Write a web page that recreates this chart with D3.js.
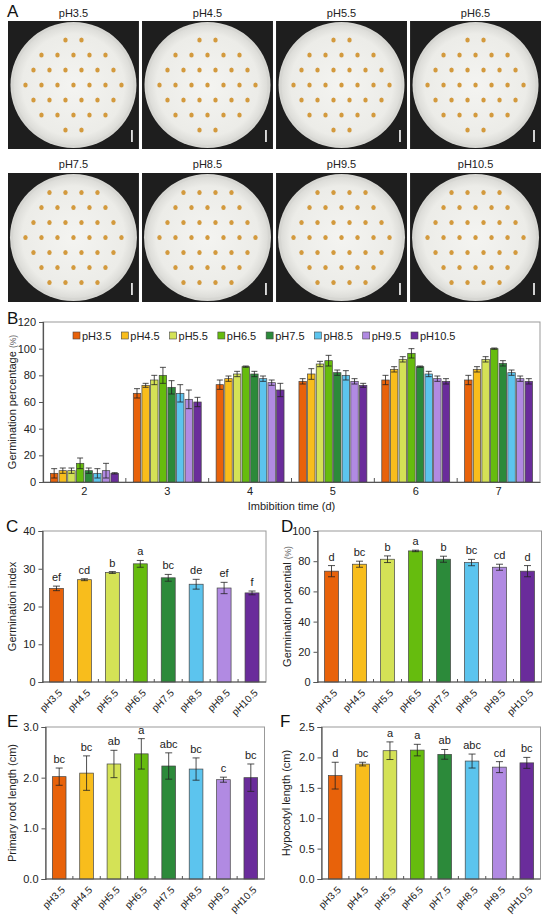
<!DOCTYPE html>
<html><head><meta charset="utf-8">
<script src="https://cdn.jsdelivr.net/npm/d3@7"></script>
<style>body{margin:0;background:#fff}svg{display:block;font-family:"Liberation Sans",Arial,sans-serif}</style>
</head><body><svg id="c" width="550" height="915"></svg>
<script>
// ---------- data ----------
const phLabels = ["pH3.5","pH4.5","pH5.5","pH6.5","pH7.5","pH8.5","pH9.5","pH10.5"];
const phColors = ["#E8620A","#F8BD1C","#D4E256","#66BC0E","#2C8A3A","#5CC4EE","#B18AE2","#6A2C9B"];
const days = ["2","3","4","5","6","7"];
const bTicks = [0,20,40,60,80,100,120];
// germination percentage per day (rows) and pH (cols)
const gpMean = [
  [6.5, 8.5, 8.5, 14, 8.5, 6.5, 8.5, 6.5],
  [66.5, 72.5, 76.5, 80, 71, 66.5, 62, 60],
  [73, 77.5, 81, 86.5, 81, 77.5, 74.5, 69],
  [75.5, 81, 88.5, 91, 82, 80, 75.5, 72.5],
  [76.5, 84.5, 92, 96.5, 86.5, 81, 77.5, 75.5],
  [76.5, 84.5, 92, 100, 89, 82, 77.5, 75.5]
];
const gpErr = [
  [3.5, 2, 2, 4, 2, 3.5, 5.5, 0.5],
  [3.5, 1.5, 3.5, 6, 5, 6.5, 7, 3.5],
  [3.5, 2, 2, 0.5, 2, 2, 2, 5],
  [2, 4, 2, 4, 2, 3.5, 2, 1.5],
  [3.5, 2, 2, 3.5, 0.5, 2, 2, 2],
  [3.5, 2, 2, 0.5, 2, 2, 2, 2]
];
// C germination index
const giMean = [24.8, 27.1, 29.0, 31.3, 27.6, 25.9, 24.9, 23.6];
const giErr  = [0.6, 0.25, 0.25, 0.9, 0.9, 1.3, 1.5, 0.5];
const giLetters = ["ef","cd","b","a","bc","de","ef","f"];
const giTicks = [0,10,20,30,40];
// D germination potential
const gpoMean = [73.4, 78.0, 81.3, 86.8, 81.3, 79.1, 76.0, 73.4];
const gpoErr  = [3.7, 2, 2.2, 0.5, 2, 2.1, 2, 3.7];
const gpoLetters = ["d","bc","b","a","b","bc","cd","d"];
const gpoTicks = [0,20,40,60,80,100];
// E primary root length
const rootMean = [2.02, 2.09, 2.27, 2.47, 2.23, 2.17, 1.96, 2.00];
const rootErr  = [0.17, 0.34, 0.27, 0.30, 0.26, 0.22, 0.05, 0.27];
const rootLetters = ["bc","bc","ab","a","abc","bc","c","bc"];
const rootTicks = [0,1,2,3];
// F hypocotyl length
const hypoMean = [1.70, 1.89, 2.11, 2.12, 2.05, 1.94, 1.84, 1.91];
const hypoErr  = [0.22, 0.03, 0.145, 0.095, 0.08, 0.115, 0.09, 0.09];
const hypoLetters = ["d","bc","a","a","ab","abc","cd","bc"];
const hypoTicks = [0,0.5,1,1.5,2,2.5];

const svg = d3.select("#c");
const AX = "#555";

function panelLetter(t, x, y) {
  svg.append("text").attr("x", x).attr("y", y).attr("font-size", 17).attr("fill", "#111").text(t);
}

// ---------- A: photos ----------
panelLetter("A", 7, 17);
const photoCols = d3.scaleBand().domain(d3.range(4)).range([8, 541]).paddingInner(0.023);
const photoRows = [{y0: 21, y1: 149, ly: 17}, {y0: 173, y1: 302, ly: 168}];
const defs = svg.append("defs");
const grad = defs.append("radialGradient").attr("id", "dish");
grad.append("stop").attr("offset", "0%").attr("stop-color", "#f4f4f1");
grad.append("stop").attr("offset", "85%").attr("stop-color", "#ececE8");
grad.append("stop").attr("offset", "100%").attr("stop-color", "#dcdcd8");
phLabels.forEach((lab, i) => {
  const row = photoRows[Math.floor(i / 4)];
  const x0 = photoCols(i % 4), w = photoCols.bandwidth(), h = row.y1 - row.y0;
  const g = svg.append("g").attr("transform", `translate(${x0},${row.y0})`);
  g.append("rect").attr("width", w).attr("height", h).attr("fill", "#1e1e1e");
  const cx = w / 2, cy = h / 2, r = Math.min(w, h) / 2 - 1;
  g.append("circle").attr("cx", cx).attr("cy", cy).attr("r", r).attr("fill", "#d6d6d2");
  g.append("circle").attr("cx", cx).attr("cy", cy).attr("r", r - 3).attr("fill", "url(#dish)");
  // seeds (decorative grid)
  const seeds = [];
  d3.range(-3, 4).forEach(ry => {
    d3.range(-3, 4).forEach(rx => {
      const sx = cx + rx * 16 + (ry % 2 ? 8 : 0), sy = cy + ry * 15;
      if (Math.hypot(sx - cx, sy - cy) < r - 12) seeds.push([sx, sy]);
    });
  });
  g.selectAll("ellipse").data(seeds).join("ellipse")
    .attr("cx", d => d[0]).attr("cy", d => d[1]).attr("rx", 2.2).attr("ry", 2.6)
    .attr("fill", "#d39a3e");
  g.append("line").attr("x1", w - 7).attr("x2", w - 7).attr("y1", h - 19).attr("y2", h - 7)
    .attr("stroke", "#fff").attr("stroke-width", 1.6);
  svg.append("text").attr("x", x0 + w / 2).attr("y", row.ly).attr("text-anchor", "middle")
    .attr("font-size", 11).attr("fill", "#222").text(lab);
});

// ---------- B ----------
panelLetter("B", 7, 324);
const bL = 43, bR = 540, bT = 322, bB = 482;
const xB0 = d3.scaleBand().domain(days).range([bL, bR]).paddingInner(0.18).paddingOuter(0.09);
const xB1 = d3.scaleBand().domain(phLabels).range([0, xB0.bandwidth()]).paddingInner(0.14);
const yB = d3.scaleLinear().domain([0, 120]).range([bB, bT]);
const gB = svg.append("g");
gB.append("rect").attr("x", bL).attr("y", bT).attr("width", bR - bL).attr("height", bB - bT)
  .attr("fill", "none").attr("stroke", "#999").attr("stroke-width", 1);
days.forEach((d, di) => {
  const gg = gB.append("g").attr("transform", `translate(${xB0(d)},0)`);
  phLabels.forEach((p, pi) => {
    const v = gpMean[di][pi], e = gpErr[di][pi];
    const x = xB1(p), bw = xB1.bandwidth();
    gg.append("rect").attr("x", x).attr("y", yB(v)).attr("width", bw).attr("height", yB(0) - yB(v))
      .attr("fill", phColors[pi]).attr("stroke", "#444").attr("stroke-width", 0.7);
    const cx = x + bw / 2;
    gg.append("path").attr("d", `M${cx},${yB(v - e)}V${yB(v + e)}M${cx - 3},${yB(v + e)}H${cx + 3}M${cx - 3},${yB(v - e)}H${cx + 3}`)
      .attr("stroke", "#222").attr("stroke-width", 0.8).attr("fill", "none");
  });
});
const yAxB = gB.append("g").attr("transform", `translate(${bL},0)`)
  .call(d3.axisLeft(yB).tickValues(bTicks).tickSize(4).tickPadding(3));
const xAxB = gB.append("g").attr("transform", `translate(0,${bB})`)
  .call(d3.axisBottom(xB0).tickSize(0).tickPadding(5));
[yAxB, xAxB].forEach(a => {
  a.selectAll("text").attr("font-size", 11).attr("fill", "#222").attr("font-family", "Liberation Sans, Arial, sans-serif");
  a.select(".domain").attr("stroke", AX).attr("stroke-width", 1.2);
  a.selectAll(".tick line").attr("stroke", AX);
});
// inner separators between groups
days.slice(1).forEach(d => {
  const sx = xB0(d) - xB0.step() * xB0.paddingInner() / 2;
  gB.append("line").attr("x1", sx).attr("x2", sx).attr("y1", bB).attr("y2", bB - 4).attr("stroke", AX);
});
gB.append("text").attr("x", (bL + bR) / 2).attr("y", 510).attr("text-anchor", "middle")
  .attr("font-size", 11).attr("fill", "#222").text("Imbibition time (d)");
const tB = gB.append("text").attr("transform", `translate(16,${(bT + bB) / 2}) rotate(-90)`)
  .attr("text-anchor", "middle").attr("font-size", 11).attr("fill", "#222");
tB.append("tspan").text("Germination percentage ");
tB.append("tspan").attr("font-size", 8.5).attr("fill", "#666").text("(%)");
// legend
const legX = d3.scalePoint().domain(phLabels).range([73, 411]);
phLabels.forEach((p, i) => {
  gB.append("rect").attr("x", legX(p)).attr("y", 332).attr("width", 7).attr("height", 7)
    .attr("fill", phColors[i]).attr("stroke", "#444").attr("stroke-width", 0.6);
  gB.append("text").attr("x", legX(p) + 9).attr("y", 339.5).attr("font-size", 11).attr("fill", "#222").text(p);
});

// ---------- C-F ----------
function barPanel(o) {
  const g = svg.append("g");
  const x = d3.scaleBand().domain(phLabels).range([o.l, o.r]).paddingInner(0.5).paddingOuter(0.25);
  const y = d3.scaleLinear().domain([0, o.max]).range([o.b, o.t]);
  g.append("rect").attr("x", o.l).attr("y", o.t).attr("width", o.r - o.l).attr("height", o.b - o.t)
    .attr("fill", "none").attr("stroke", "#999");
  phLabels.forEach((p, i) => {
    const v = o.mean[i], e = o.err[i], bw = x.bandwidth(), cx = x(p) + bw / 2;
    g.append("rect").attr("x", x(p)).attr("y", y(v)).attr("width", bw).attr("height", y(0) - y(v))
      .attr("fill", phColors[i]).attr("stroke", "#444").attr("stroke-width", 0.7);
    g.append("path").attr("d", `M${cx},${y(v - e)}V${y(v + e)}M${cx - 3.5},${y(v + e)}H${cx + 3.5}M${cx - 3.5},${y(v - e)}H${cx + 3.5}`)
      .attr("stroke", "#222").attr("stroke-width", 0.8).attr("fill", "none");
    g.append("text").attr("x", cx).attr("y", y(v + e) - 5).attr("text-anchor", "middle")
      .attr("font-size", 11).attr("fill", "#222").text(o.letters[i]);
    g.append("text").attr("transform", `translate(${cx + 4},${o.b + 9}) rotate(-45)`)
      .attr("text-anchor", "end").attr("dy", "0.35em").attr("font-size", 10).attr("fill", "#222").text(p);
  });
  phLabels.slice(1).forEach(p => {
    const sx = x(p) - x.step() * x.paddingInner() / 2;
    g.append("line").attr("x1", sx).attr("x2", sx).attr("y1", o.b).attr("y2", o.b - 3).attr("stroke", AX);
  });
  const ya = g.append("g").attr("transform", `translate(${o.l},0)`)
    .call(d3.axisLeft(y).tickValues(o.ticks).tickFormat(o.fmt).tickSize(4).tickPadding(3));
  ya.selectAll("text").attr("font-size", 11).attr("fill", "#222").attr("font-family", "Liberation Sans, Arial, sans-serif");
  ya.select(".domain").attr("stroke", AX).attr("stroke-width", 1.2);
  ya.selectAll(".tick line").attr("stroke", AX);
  g.append("line").attr("x1", o.l).attr("x2", o.r).attr("y1", o.b).attr("y2", o.b).attr("stroke", AX).attr("stroke-width", 1.2);
  const tt = g.append("text").attr("transform", `translate(${o.lx},${(o.t + o.b) / 2}) rotate(-90)`)
    .attr("text-anchor", "middle").attr("font-size", 11).attr("fill", "#222");
  tt.append("tspan").text(o.label);
  if (o.unit) tt.append("tspan").attr("font-size", 8.5).attr("fill", "#666").text(o.unit);
  panelLetter(o.letter, o.lx0, o.ly);
}
barPanel({l: 42.5, r: 266, t: 531, b: 682, max: 40, ticks: giTicks, fmt: d3.format("d"),
  mean: giMean, err: giErr, letters: giLetters, label: "Germination index", lx: 16, lx0: 6, ly: 532, letter: "C"});
barPanel({l: 317.5, r: 541.5, t: 531, b: 682, max: 100, ticks: gpoTicks, fmt: d3.format("d"),
  mean: gpoMean, err: gpoErr, letters: gpoLetters, label: "Germination potential ", unit: "(%)", lx: 291, lx0: 281, ly: 532, letter: "D"});
barPanel({l: 45.5, r: 264.5, t: 727, b: 879, max: 3, ticks: rootTicks, fmt: d3.format(".1f"),
  mean: rootMean, err: rootErr, letters: rootLetters, label: "Primary root length (cm)", lx: 16, lx0: 7, ly: 727, letter: "E"});
barPanel({l: 321.5, r: 540.5, t: 727, b: 879, max: 2.5, ticks: hypoTicks, fmt: d3.format(".1f"),
  mean: hypoMean, err: hypoErr, letters: hypoLetters, label: "Hypocotyl length (cm)", lx: 290, lx0: 280, ly: 727, letter: "F"});
</script></body></html>
